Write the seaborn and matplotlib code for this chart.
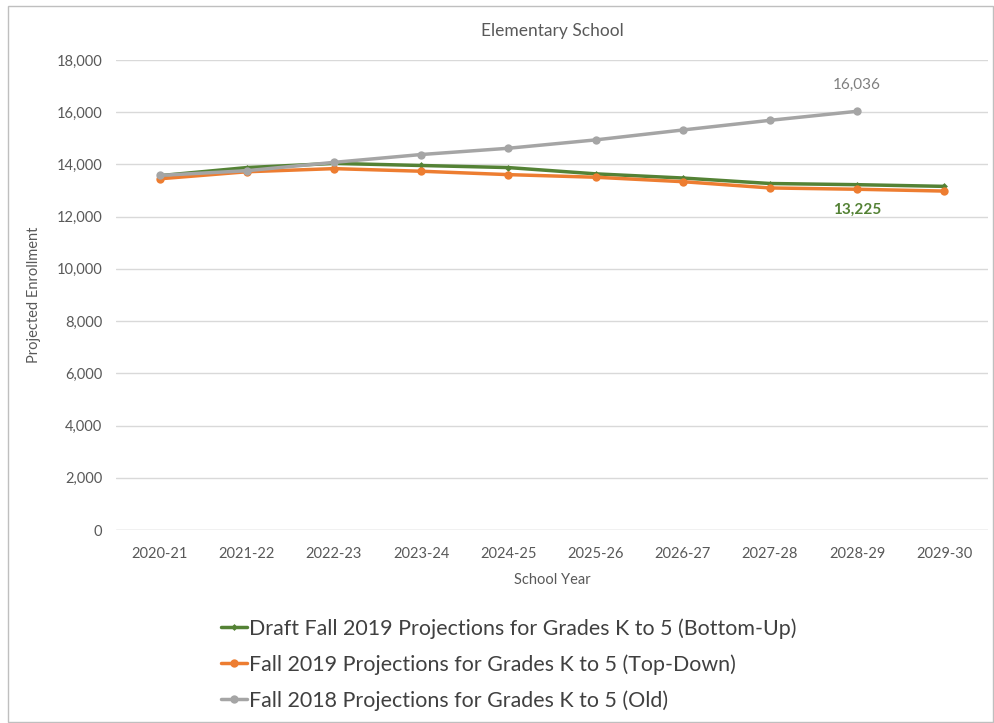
import numpy as np
import pandas as pd
import seaborn as sbn
import matplotlib.pyplot as plt
from matplotlib.patches import Rectangle
from matplotlib.lines import Line2D
from matplotlib.ticker import FuncFormatter

# school years on the x axis
years = ["2020-21", "2021-22", "2022-23", "2023-24", "2024-25",
         "2025-26", "2026-27", "2027-28", "2028-29", "2029-30"]

# projections
bottom_up = [13570, 13880, 14040, 13960, 13880, 13640, 13480, 13270, 13225, 13160]
top_down = [13450, 13720, 13840, 13740, 13610, 13510, 13340, 13100, 13050, 12980]
old_2018 = [13580, 13760, 14080, 14380, 14620, 14940, 15320, 15690, 16036, np.nan]

names = ["Draft Fall 2019 Projections for Grades K to 5 (Bottom-Up)",
         "Fall 2019 Projections for Grades K to 5 (Top-Down)",
         "Fall 2018 Projections for Grades K to 5 (Old)"]
colors = ["#548235", "#ED7D31", "#A5A5A5"]
markers = ["D", "o", "o"]
msizes = [3.5, 6, 6]

sbn.set_style("white")
plt.rcParams["font.family"] = ["Lato", "DejaVu Sans"]

fig = plt.figure(figsize=(9.95, 7.23), dpi=100)
ax = fig.add_axes([116 / 995, 1 - 530 / 723, (988 - 116) / 995, 470 / 723])

xs = np.arange(len(years))
for vals, name, c, m, ms in zip([bottom_up, top_down, old_2018], names, colors, markers, msizes):
    df = pd.DataFrame({"x": xs, "y": vals}).dropna()
    sbn.lineplot(data=df, x="x", y="y", ax=ax, color=c, linewidth=2.5,
                 marker=m, markersize=ms, markeredgewidth=0, zorder=3)

ax.set_xlim(-0.5, len(years) - 0.5)
ax.set_ylim(0, 18000)
ax.set_yticks(range(0, 18001, 2000))
ax.yaxis.set_major_formatter(FuncFormatter(lambda v, p: f"{int(v):,}"))
ax.set_xticks(xs)
ax.set_xticklabels(years)
ax.tick_params(axis="both", labelsize=10.5, colors="#595959", length=0)
ax.tick_params(axis="x", pad=12)
ax.tick_params(axis="y", pad=10)
ax.grid(axis="y", color="#D9D9D9", linewidth=1)
for s in ax.spines.values():
    s.set_visible(False)
ax.axhline(0, color="#D9D9D9", linewidth=1, zorder=1)

ax.set_xlabel("School Year", fontsize=10.5, color="#595959", labelpad=9)
ax.set_ylabel("Projected Enrollment", fontsize=10.5, color="#595959", labelpad=11)
ax.set_title("Elementary School", fontsize=12.5, color="#595959", pad=17)

# data labels
ax.annotate(f"{old_2018[8]:,}", (8, old_2018[8]), xytext=(0, 14), textcoords="offset points",
            ha="center", va="bottom", fontsize=11, color="#7F7F7F")
ax.annotate(f"{bottom_up[8]:,}", (8, bottom_up[8]), xytext=(0, -13), textcoords="offset points",
            ha="center", va="top", fontsize=11, color="#548235", fontweight="bold")

handles = [Line2D([], [], color=c, linewidth=2.5, marker=m, markersize=ms, markeredgewidth=0)
           for c, m, ms in zip(colors, markers, msizes)]
fig.legend(handles, names, loc="upper left", bbox_to_anchor=(202 / 995, 1 - 599 / 723),
           frameon=False, fontsize=15.4, handlelength=1.2, handletextpad=0.1,
           labelspacing=0.72, labelcolor="#404040")

fig.patches.append(Rectangle((8 / 995, 0.002), 985 / 995, 0.99, transform=fig.transFigure,
                             fill=False, edgecolor="#BFBFBF", linewidth=1))

fig.savefig("out.png", dpi=100)
